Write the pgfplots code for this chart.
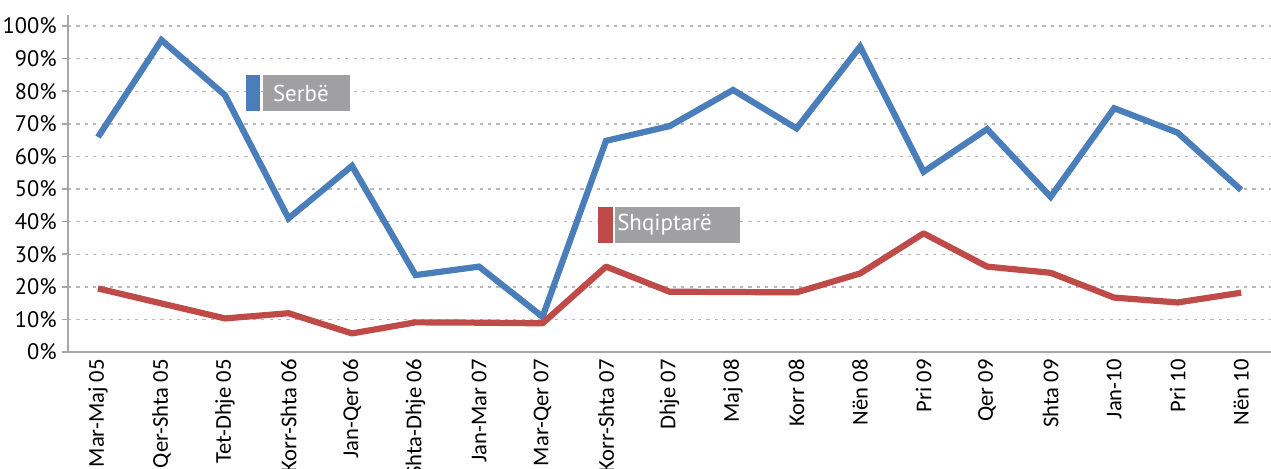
\documentclass[border=0pt]{standalone}
\usepackage{fontspec}
\setmainfont{PT Sans}
\newfontfamily\calib{Carlito}
\usepackage{pgfplots}
\pgfplotsset{compat=1.18}
\definecolor{serb}{HTML}{4A7EBB}
\definecolor{alb}{HTML}{BE4B48}
\definecolor{axgray}{HTML}{A6A6A6}
\definecolor{gridgray}{HTML}{B8B8B8}
\definecolor{boxgray}{HTML}{A0A0A3}
\begin{document}
\begin{tikzpicture}
\path[use as bounding box] (0,0) rectangle (635.5pt,234pt);
\begin{axis}[
  at={(34pt,58pt)}, anchor=south west,
  scale only axis, width=601.5pt, height=168.5pt,
  xmin=-0.472, xmax=18.47, ymin=0, ymax=103.4,
  axis x line*=bottom, axis y line*=left,
  axis line style={axgray, line width=0.9pt},
  xtick={0,...,18},
  xticklabels={Mar-Maj 05,Qer-Shta 05,Tet-Dhje 05,Korr-Shta 06,Jan-Qer 06,Shta-Dhje 06,Jan-Mar 07,Mar-Qer 07,Korr-Shta 07,Dhje 07,Maj 08,Korr 08,Nën 08,Pri 09,Qer 09,Shta 09,Jan-10,Pri 10,Nën 10},
  x tick label style={rotate=90, anchor=east, font=\calib\fontsize{11.3}{12}\selectfont, inner sep=0.5pt},
  xtick style={draw=none},
  minor xtick={-0.5,0.5,...,18.5},
  minor x tick style={axgray, line width=0.8pt},
  minor tick length=3pt,
  tick align=outside,
  major tick length=3pt,
  ytick={0,10,...,100},
  yticklabel={\pgfmathprintnumber{\tick}\%},
  y tick label style={font=\fontsize{11.2}{12}\selectfont, inner sep=1pt, xshift=-1.5pt},
  /pgf/number format/assume math mode=true,
  ytick style={axgray, line width=0.8pt},
  ymajorgrids,
  major grid style={gridgray, line width=0.7pt, dash pattern=on 1.6pt off 2.6pt},
  clip=false,
]
\addplot[serb, line width=3.1pt, line join=miter] coordinates {
(0,65.95) (1,95.7) (2,78.8) (3,41.0) (4,57.1) (5,23.6) (6,26.2) (7,10.8) (8,64.8) (9,69.3)
(10,80.4) (11,68.6) (12,93.7) (13,55.3) (14,68.4) (15,47.6) (16,74.8) (17,67.3) (18,49.7)};
\addplot[alb, line width=3.1pt, line join=round] coordinates {
(0,19.5) (1,14.9) (2,10.3) (3,11.9) (4,5.7) (5,9.1) (6,9.0) (7,8.8) (8,26.2) (9,18.5)
(10,18.4) (11,18.3) (12,24.1) (13,36.4) (14,26.2) (15,24.3) (16,16.7) (17,15.2) (18,18.2)};
\fill[serb] (axis cs:2.33,73.9) rectangle (axis cs:2.55,85.0);
\fill[boxgray] (axis cs:2.60,73.9) rectangle (axis cs:3.97,85.0);
\node[anchor=west, text=white, font=\fontsize{11.5}{13}\selectfont, inner sep=0pt] at (axis cs:2.75,79.45) {Serbë};
\fill[alb] (axis cs:7.87,33.4) rectangle (axis cs:8.11,44.5);
\fill[boxgray] (axis cs:8.14,33.4) rectangle (axis cs:10.11,44.5);
\node[anchor=west, text=white, font=\fontsize{11.5}{13}\selectfont, inner sep=0pt] at (axis cs:8.17,38.95) {Shqiptarë};
\end{axis}
\end{tikzpicture}
\end{document}
